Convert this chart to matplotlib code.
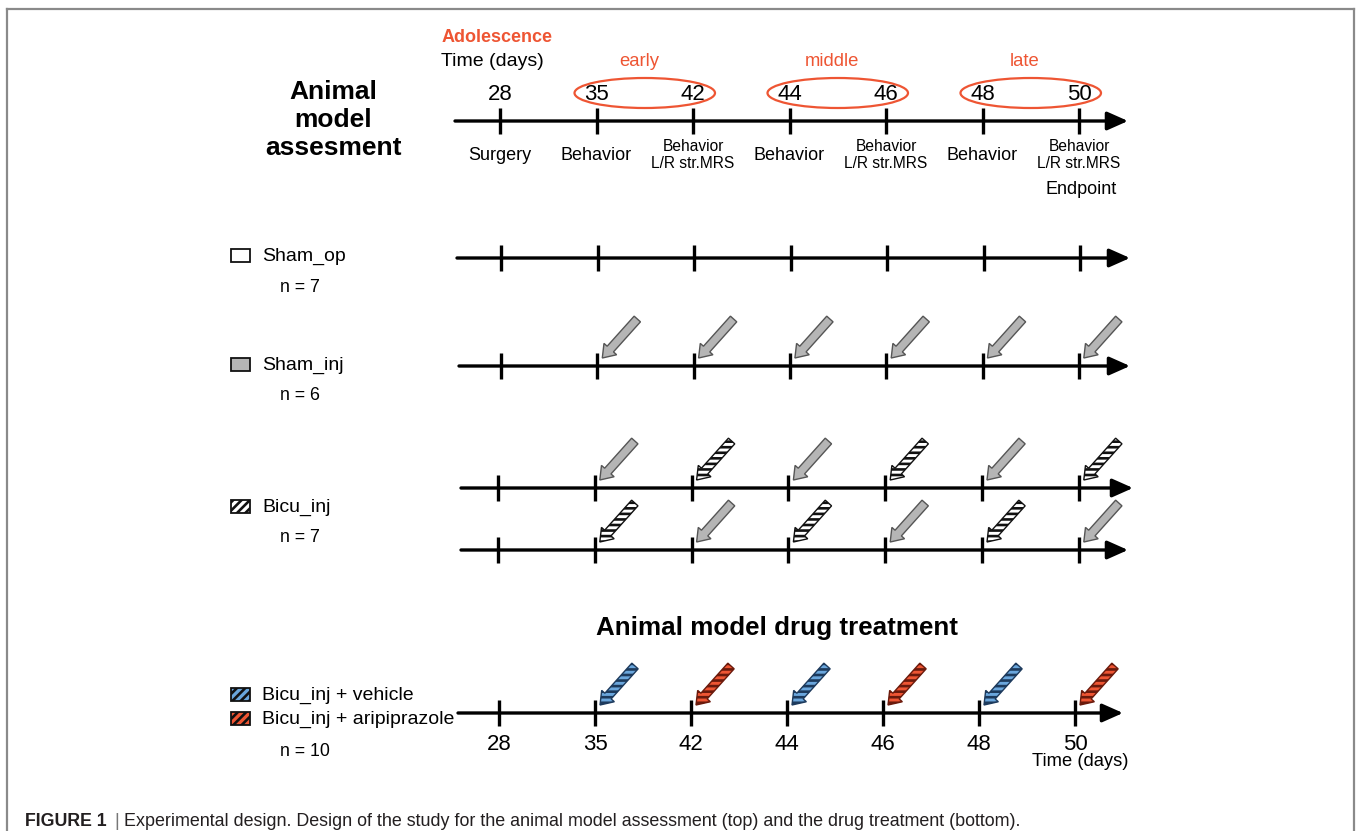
import matplotlib
matplotlib.use('Agg')
import matplotlib.pyplot as plt
from matplotlib.patches import Ellipse, Rectangle, FancyArrow

plt.rcParams['font.family'] = ['Liberation Sans', 'DejaVu Sans']
plt.rcParams['hatch.linewidth'] = 1.9

# ---- data -------------------------------------------------------------
days = [28, 35, 42, 44, 46, 48, 50]
events = ['Surgery', 'Behavior', 'Behavior\nL/R str.MRS', 'Behavior',
          'Behavior\nL/R str.MRS', 'Behavior', 'Behavior\nL/R str.MRS']
phases = ['early', 'middle', 'late']
phase_idx = [(1, 2), (3, 4), (5, 6)]
groups = ['Sham_op', 'Sham_inj', 'Bicu_inj',
          'Bicu_inj + vehicle', 'Bicu_inj + aripiprazole']
group_n = [7, 6, 7, 10]
sham_inj_arrows = ['saline'] * 6
bicu_arrows_a = ['saline', 'bicu', 'saline', 'bicu', 'saline', 'bicu']
bicu_arrows_b = ['bicu', 'saline', 'bicu', 'saline', 'bicu', 'saline']
drug_arrows = ['vehicle', 'aripiprazole'] * 3

RED = '#ee5533'
styles = {
    'sham_op': dict(facecolor='white', edgecolor='#111111', hatch=None),
    'saline': dict(facecolor='#b5b5b5', edgecolor='#555555', hatch=None),
    'bicu': dict(facecolor='white', edgecolor='#111111', hatch='---'),
    'vehicle': dict(facecolor='#6aa6dc', edgecolor='#1d3a5c', hatch='---'),
    'aripiprazole': dict(facecolor='#ee5533', edgecolor='#6a1a0c', hatch='---'),
}

fig = plt.figure(figsize=(13.56, 8.31), dpi=100)
ax = fig.add_axes([0, 0, 1, 1])
ax.set_xlim(0, 1356)
ax.set_ylim(831, 0)
ax.axis('off')


def tick_x(i, x_first, step):
    return x_first + i * step


def timeline(y, x_start, x_end, x_first, step):
    ax.annotate('', xy=(x_end, y), xytext=(x_start, y),
                arrowprops=dict(arrowstyle='-|>,head_length=0.9,head_width=0.4',
                                lw=2.4, color='k', shrinkA=0, shrinkB=0,
                                mutation_scale=14))
    for i in range(len(days)):
        x = tick_x(i, x_first, step)
        ax.plot([x, x], [y - 13, y + 13], color='k', lw=2.4,
                solid_capstyle='butt')


def injections(y, kinds, x_first, step):
    for i, kind in enumerate(kinds):
        tx = tick_x(i + 1, x_first, step) + 5
        ty = y - 8
        st = styles[kind]
        ar = FancyArrow(tx + 35, ty - 39, -35, 39, width=8.5, head_width=17,
                        head_length=12, length_includes_head=True,
                        facecolor=st['facecolor'], edgecolor=st['edgecolor'],
                        hatch=st['hatch'], lw=1.0)
        ax.add_patch(ar)


def legend_box(y, kind, label):
    st = styles[kind]
    hatch = '////' if st['hatch'] else None
    ax.add_patch(Rectangle((231, y - 7), 19, 13, facecolor=st['facecolor'],
                           edgecolor='#111111', hatch=hatch, lw=1.3))
    ax.text(262, y, label, fontsize=14, va='center', ha='left')


# ---- frame ------------------------------------------------------------
ax.plot([7, 1354], [9, 9], color='#8a8a8a', lw=1.6)
ax.plot([7, 7], [9, 831], color='#8a8a8a', lw=1.6)
ax.plot([1354, 1354], [9, 831], color='#8a8a8a', lw=1.6)

# ---- animal model assessment -----------------------------------------
ax.text(333, 120, 'Animal\nmodel\nassesment', fontsize=19, fontweight='bold',
        ha='center', va='center', linespacing=1.2)
ax.text(497, 38, 'Adolescence', fontsize=13, fontweight='bold', color=RED,
        ha='center', va='center')
ax.text(492, 61, 'Time (days)', fontsize=14, ha='center', va='center')

x0, st0 = 500, 96.5
timeline(121, 455, 1128, x0, st0)
for i, d in enumerate(days):
    x = tick_x(i, x0, st0)
    ax.text(x, 94, str(d), fontsize=16, ha='center', va='center')
    if '\n' in events[i]:
        ax.text(x, 155, events[i], fontsize=11.2, ha='center', va='center',
                linespacing=1.1)
    else:
        ax.text(x, 155, events[i], fontsize=13, ha='center', va='center')
ax.text(tick_x(6, x0, st0) + 2, 190, 'Endpoint', fontsize=13, ha='center',
        va='center')
for name, (a, b) in zip(phases, phase_idx):
    xa, xb = tick_x(a, x0, st0), tick_x(b, x0, st0)
    ax.add_patch(Ellipse(((xa + xb) / 2, 93), xb - xa + 44, 30, fill=False,
                         edgecolor=RED, lw=1.6))
    ax.text((xa + xb) / 2 - 6, 61, name, fontsize=13.3, color=RED,
            ha='center', va='center')

# Sham_op
timeline(258, 457, 1130, 501, 96.5)
legend_box(256, 'sham_op', groups[0])
ax.text(300, 288, 'n = %d' % group_n[0], fontsize=12.8, ha='center',
        va='center')

# Sham_inj
timeline(366, 459, 1130, 501, 96.3)
injections(366, sham_inj_arrows, 501, 96.3)
legend_box(365, 'saline', groups[1])
ax.text(300, 396, 'n = %d' % group_n[1], fontsize=12.8, ha='center',
        va='center')

# Bicu_inj (two counterbalanced sequences)
timeline(488, 461, 1133, 498, 96.8)
injections(488, bicu_arrows_a, 498, 96.8)
timeline(550, 461, 1128, 498, 96.8)
injections(550, bicu_arrows_b, 498, 96.8)
legend_box(507, 'bicu', groups[2])
ax.text(300, 537, 'n = %d' % group_n[2], fontsize=12.8, ha='center',
        va='center')

# ---- drug treatment ---------------------------------------------------
ax.text(777, 628, 'Animal model drug treatment', fontsize=18.7,
        fontweight='bold', ha='center', va='center')
timeline(713, 458, 1123, 499, 96)
injections(713, drug_arrows, 499, 96)
for i, d in enumerate(days):
    ax.text(tick_x(i, 499, 96), 744, str(d), fontsize=16, ha='center',
            va='center')
ax.text(1080, 762, 'Time (days)', fontsize=13.2, ha='center', va='center')
legend_box(695, 'vehicle', groups[3])
legend_box(719, 'aripiprazole', groups[4])
ax.text(305, 752, 'n = %d' % group_n[3], fontsize=12.8, ha='center',
        va='center')

# ---- caption ----------------------------------------------------------
ax.text(25, 821, 'FIGURE 1', fontsize=12.8, fontweight='bold', ha='left',
        va='center', color='#231f20')
ax.text(114, 821, '|', fontsize=12.8, ha='left', va='center', color='#777777')
ax.text(124, 821, 'Experimental design. Design of the study for the animal '
        'model assessment (top) and the drug treatment (bottom).',
        fontsize=12.9, ha='left', va='center', color='#231f20')

fig.savefig('out.png', dpi=100, facecolor='white')
